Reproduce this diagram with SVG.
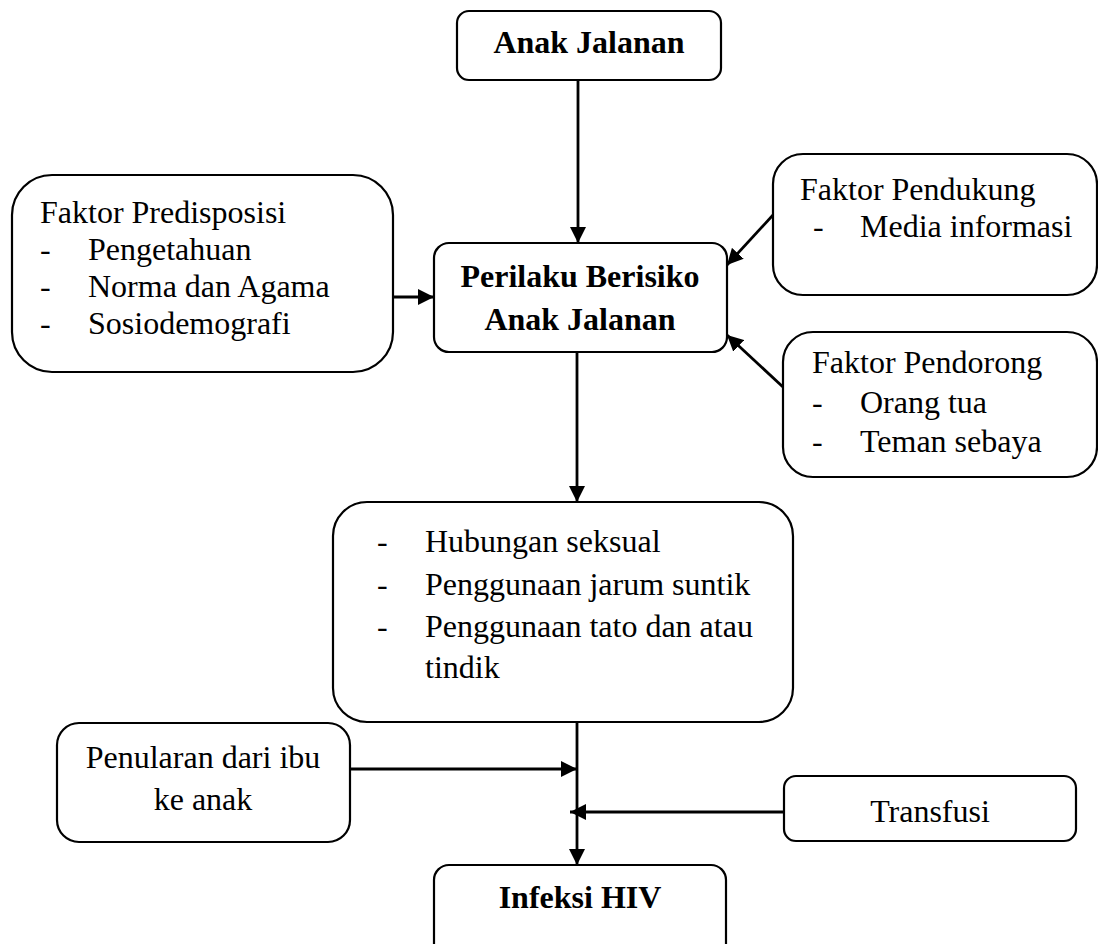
<svg xmlns="http://www.w3.org/2000/svg" width="1098" height="944" viewBox="0 0 1098 944">
<style>
.box{fill:#fff;stroke:#000;stroke-width:2.2}
.t{font-family:"Liberation Serif","Times New Roman",serif;font-size:32px;fill:#000}
.b{font-weight:bold}
.m{text-anchor:middle}
.c{stroke:#000;stroke-width:2.8;fill:none}
</style>
<defs>
<marker id="ah" viewBox="0 0 16 16" markerWidth="16" markerHeight="16" refX="16" refY="8" orient="auto" markerUnits="userSpaceOnUse">
<path d="M0,0 L16,8 L0,16 z" fill="#000"/>
</marker>
</defs>
<rect width="1098" height="944" fill="#fff"/>
<g id="connectors">
<line class="c" x1="578" y1="80" x2="578" y2="243" marker-end="url(#ah)"/>
<line class="c" x1="393" y1="297" x2="434" y2="297" marker-end="url(#ah)"/>
<line class="c" x1="773" y1="215" x2="727" y2="265" marker-end="url(#ah)"/>
<line class="c" x1="783" y1="387" x2="727" y2="335" marker-end="url(#ah)"/>
<line class="c" x1="577" y1="352" x2="577" y2="502" marker-end="url(#ah)"/>
<line class="c" x1="577" y1="722" x2="577" y2="865" marker-end="url(#ah)"/>
<line class="c" x1="350" y1="769" x2="577" y2="769" marker-end="url(#ah)"/>
<line class="c" x1="784" y1="812" x2="570" y2="812" marker-end="url(#ah)"/>
</g>
<g id="anak-jalanan">
<rect class="box" x="457" y="11" width="264" height="69" rx="12"/>
<text class="t b m" x="589" y="53">Anak Jalanan</text>
</g>
<g id="perilaku">
<rect class="box" x="434" y="243" width="293" height="109" rx="15"/>
<text class="t b m" x="580" y="287">Perilaku Berisiko</text>
<text class="t b m" x="580" y="330">Anak Jalanan</text>
</g>
<g id="predisposisi">
<rect class="box" x="12" y="175" width="381" height="197" rx="40"/>
<text class="t" x="40" y="223">Faktor Predisposisi</text>
<text class="t" x="40" y="260">-</text><text class="t" x="88" y="260">Pengetahuan</text>
<text class="t" x="40" y="297">-</text><text class="t" x="88" y="297">Norma dan Agama</text>
<text class="t" x="40" y="334">-</text><text class="t" x="88" y="334">Sosiodemografi</text>
</g>
<g id="pendukung">
<rect class="box" x="773" y="154" width="324" height="141" rx="30"/>
<text class="t" x="800" y="200">Faktor Pendukung</text>
<text class="t" x="813" y="237">-</text><text class="t" x="860" y="237">Media informasi</text>
</g>
<g id="pendorong">
<rect class="box" x="783" y="332" width="314" height="145" rx="30"/>
<text class="t" x="812" y="373">Faktor Pendorong</text>
<text class="t" x="812" y="413">-</text><text class="t" x="860" y="413">Orang tua</text>
<text class="t" x="812" y="452">-</text><text class="t" x="860" y="452">Teman sebaya</text>
</g>
<g id="perilaku-risiko">
<rect class="box" x="333" y="502" width="460" height="220" rx="34"/>
<text class="t" x="377" y="552">-</text><text class="t" x="425" y="552">Hubungan seksual</text>
<text class="t" x="377" y="595">-</text><text class="t" x="425" y="595">Penggunaan jarum suntik</text>
<text class="t" x="377" y="637">-</text><text class="t" x="425" y="637">Penggunaan tato dan atau</text>
<text class="t" x="425" y="678">tindik</text>
</g>
<g id="penularan">
<rect class="box" x="57" y="723" width="293" height="119" rx="22"/>
<text class="t m" x="203" y="768">Penularan dari ibu</text>
<text class="t m" x="203" y="810">ke anak</text>
</g>
<g id="transfusi">
<rect class="box" x="784" y="776" width="292" height="65" rx="12"/>
<text class="t m" x="930" y="822">Transfusi</text>
</g>
<g id="infeksi">
<rect class="box" x="434" y="865" width="292" height="100" rx="15"/>
<text class="t b m" x="580" y="908">Infeksi HIV</text>
</g>
</svg>
